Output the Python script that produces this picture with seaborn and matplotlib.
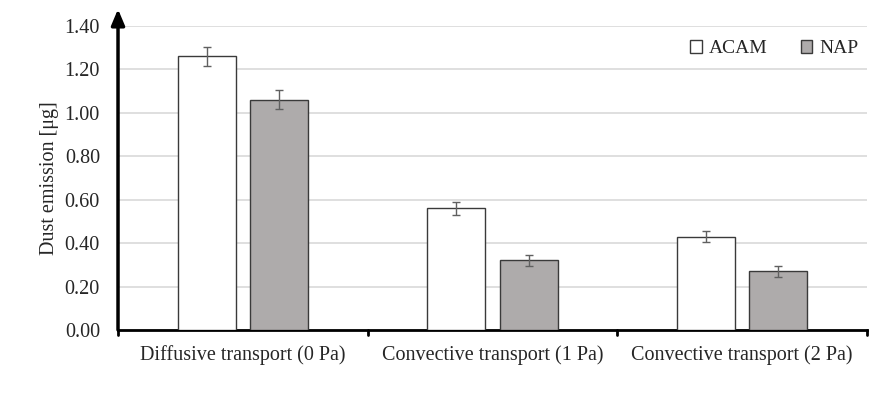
import seaborn as sns
import matplotlib.pyplot as plt
import pandas as pd

categories = ["Diffusive transport (0 Pa)", "Convective transport (1 Pa)", "Convective transport (2 Pa)"]
materials = ["ACAM", "NAP"]
acam = [1.26, 0.56, 0.43]
nap = [1.06, 0.32, 0.27]
acam_err = [0.045, 0.03, 0.025]
nap_err = [0.045, 0.025, 0.025]

df = pd.DataFrame({
    "cat": categories * 2,
    "mat": ["ACAM"] * 3 + ["NAP"] * 3,
    "val": acam + nap,
    "err": acam_err + nap_err,
})

sns.set_style("white")
plt.rcParams["font.family"] = ["Liberation Serif", "DejaVu Serif"]

fig = plt.figure(figsize=(8.9, 3.98), dpi=100)
ax = fig.add_axes([0.1326, 0.171, 0.8414, 0.764])

sns.barplot(data=df, x="cat", y="val", hue="mat", hue_order=materials,
            palette={"ACAM": "white", "NAP": "#aeaaaa"}, width=0.58, gap=0.2,
            edgecolor="#3a3a3a", linewidth=1.0, errorbar=None, ax=ax, zorder=3)

# error bars on each bar centre
for cont, mat in zip(ax.containers, materials):
    sub = df[df["mat"] == mat]
    xs = [p.get_x() + p.get_width() / 2 for p in cont.patches]
    ax.errorbar(xs, sub["val"], yerr=sub["err"], fmt="none", ecolor="#606060",
                elinewidth=1.0, capsize=3, capthick=1.0, zorder=4)

ax.set_ylim(0, 1.4)
ax.set_xlim(-0.5, 2.5)
ax.set_yticks([i * 0.2 for i in range(8)])
ax.set_yticklabels([f"{i * 0.2:.2f}" for i in range(8)], fontsize=14.5)
ax.yaxis.grid(True, color="#d9d9d9", linewidth=1.2, zorder=0)
ax.set_axisbelow(True)

ax.set_xticks([0, 1, 2])
ax.set_xticklabels(categories, fontsize=14.5)
ax.tick_params(axis="x", length=0, pad=11)
ax.tick_params(axis="y", length=0, pad=13)
for b in [-0.5, 0.5, 1.5, 2.5]:
    ax.plot([b, b], [0, -0.025], color="black", lw=2, clip_on=False, zorder=5)

ax.set_xlabel("")
ax.set_ylabel("Dust emission [μg]", fontsize=14.5, labelpad=4)

for s in ["top", "right"]:
    ax.spines[s].set_visible(False)
ax.spines["bottom"].set_linewidth(2)
ax.spines["bottom"].set_color("black")
ax.spines["left"].set_visible(False)
ax.annotate("", xy=(0, 1.055), xytext=(0, 0), xycoords="axes fraction",
            arrowprops=dict(arrowstyle="-|>,head_width=0.4,head_length=0.95",
                            color="black", lw=2.5, shrinkA=0, shrinkB=0),
            annotation_clip=False, zorder=6)

ax.legend(title=None, frameon=False, loc="upper right", ncol=2, fontsize=14,
          handlelength=0.6, handleheight=0.6, handletextpad=0.35, columnspacing=1.7,
          bbox_to_anchor=(1.012, 1.01))

fig.savefig("out.png", dpi=100)
